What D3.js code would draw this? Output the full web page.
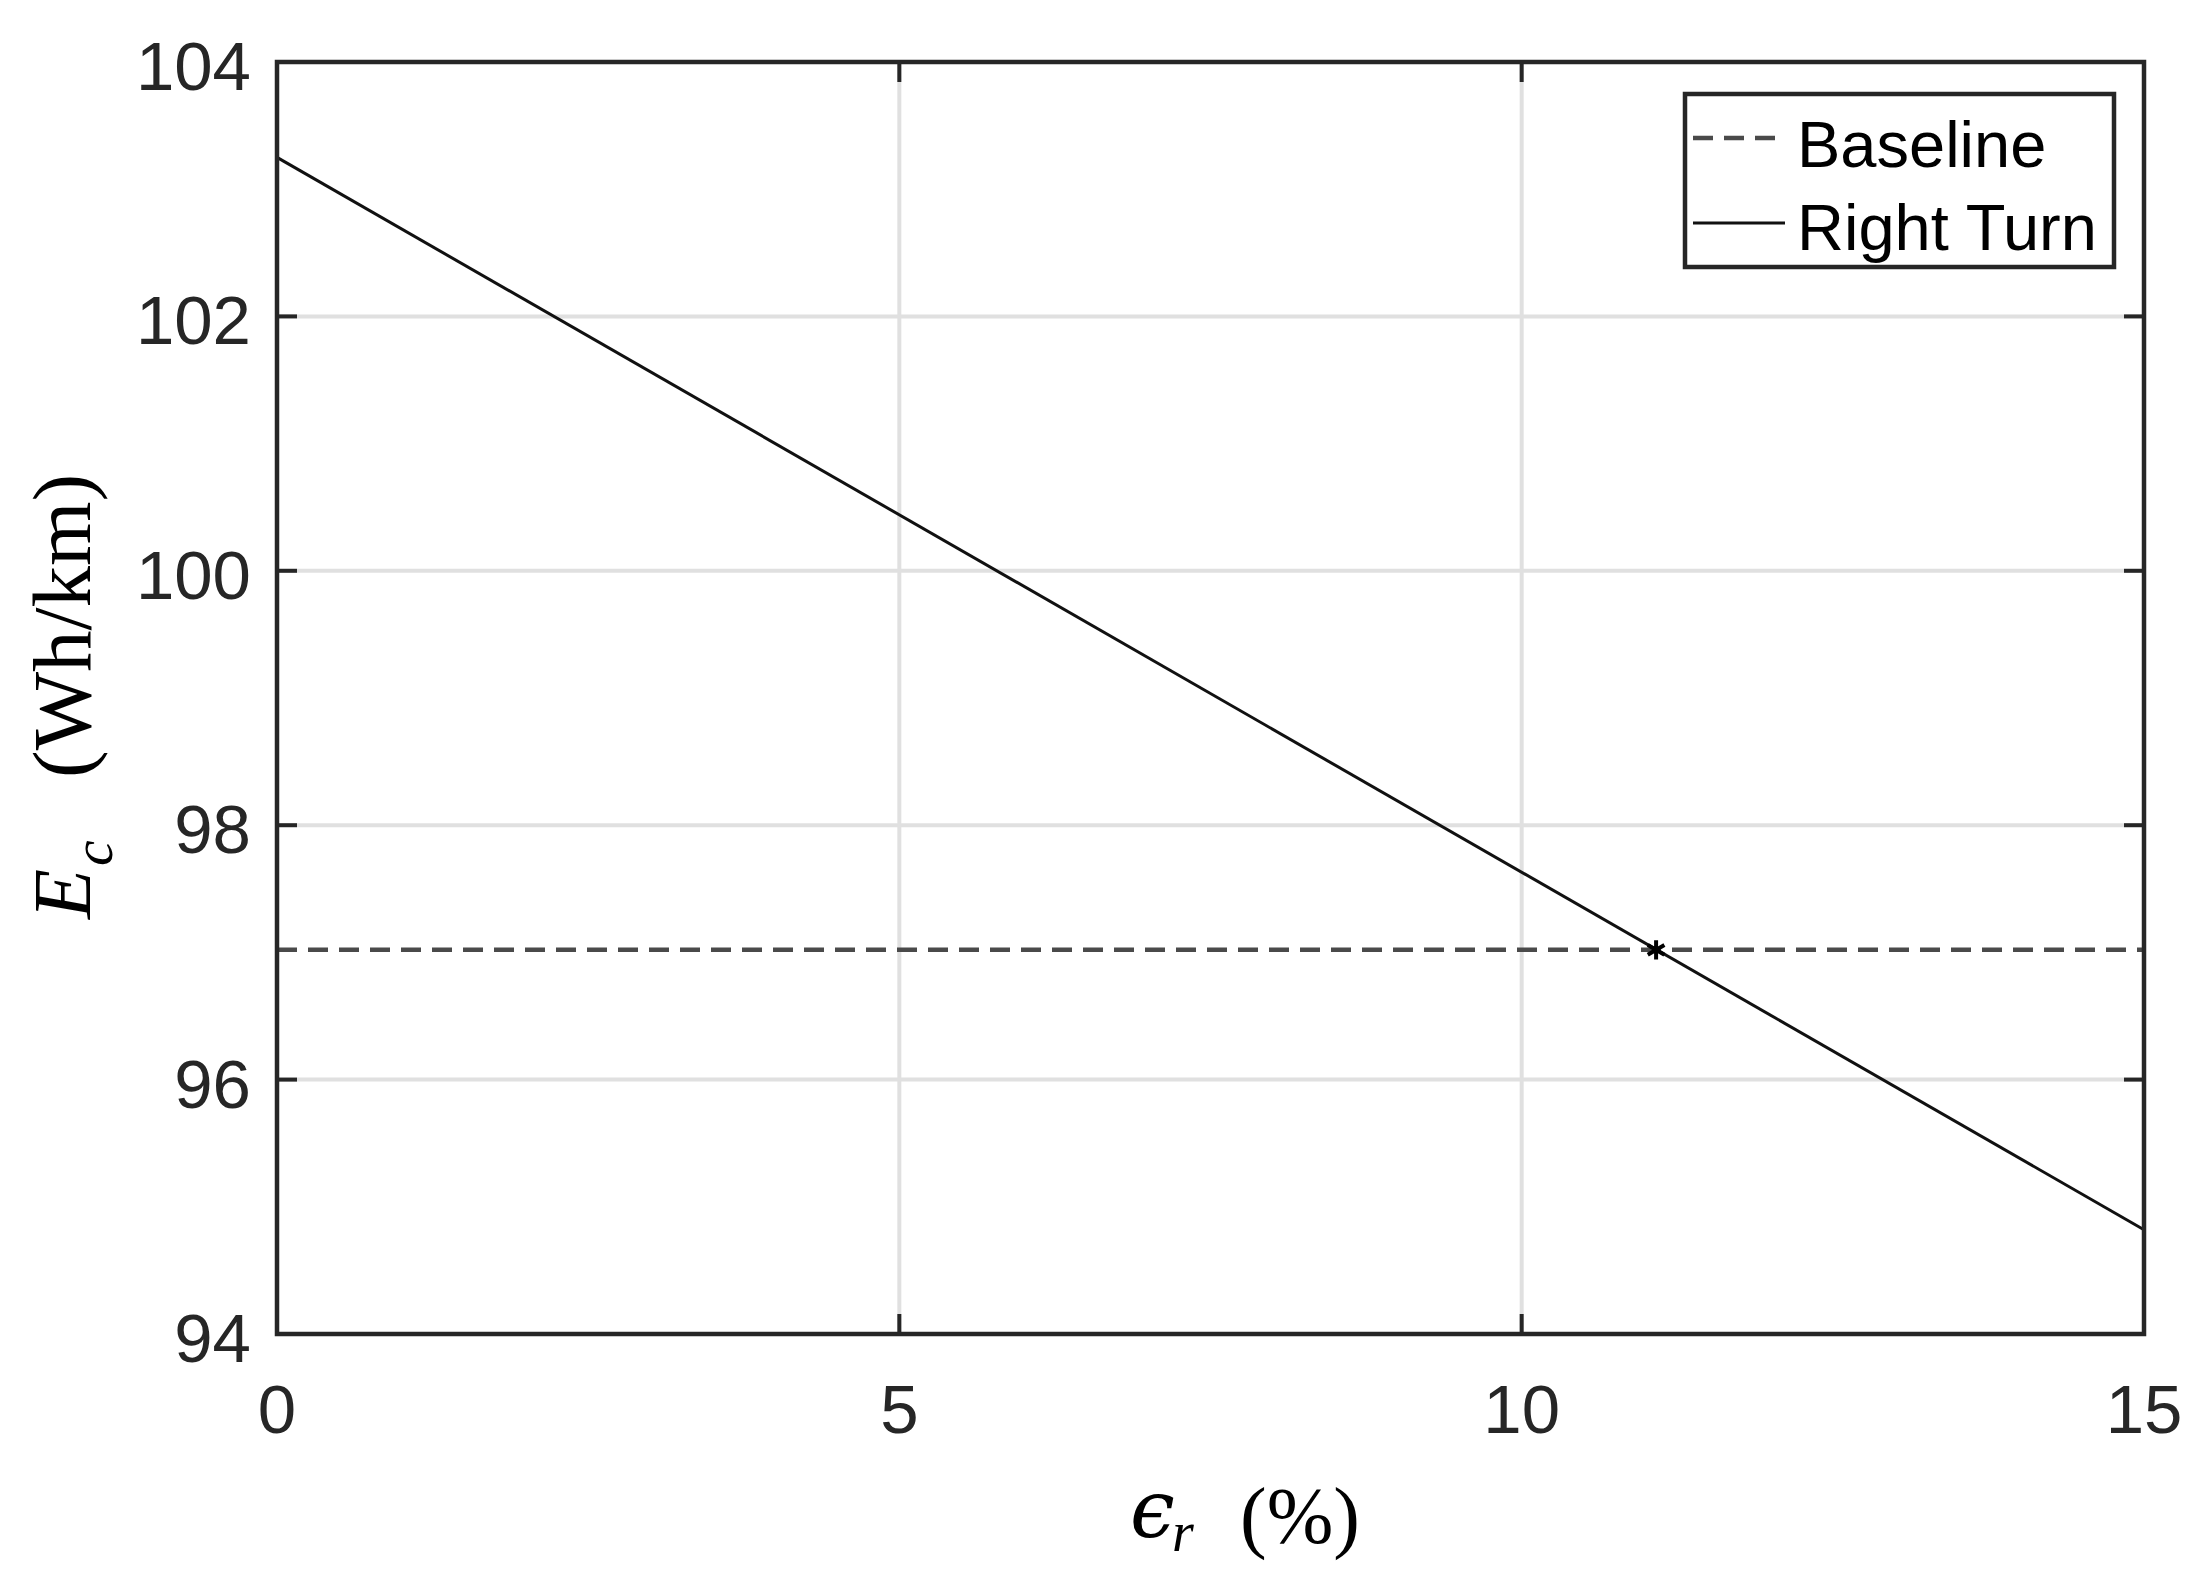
<!DOCTYPE html>
<html>
<head>
<meta charset="utf-8">
<script src="https://cdn.jsdelivr.net/npm/d3@7"></script>
<style>
  html, body { margin: 0; padding: 0; background: #fff; }
  svg { display: block; }
</style>
</head>
<body>
<div id="chart"></div>
<script>
// values
const xTicks     = [0, 5, 10, 15];
const yTicks     = [94, 96, 98, 100, 102, 104];
const turnX      = [0, 15];
const turnY      = [103.25, 94.82];
const baseX      = [0, 15];
const baseY      = [97.02, 97.02];
const crossPoint = [11.08, 97.02];
const legendKeys = ['Baseline', 'Right Turn'];

function drawChart() {
  const W = 2207, H = 1588;
  const M = { left: 277, right: 2144, top: 62, bottom: 1334 };
  const AXIS = '#262626';

  const svg = d3.select('#chart').append('svg').attr('width', W).attr('height', H);

  const x = d3.scaleLinear().domain([0, 15]).range([M.left, M.right]);
  const y = d3.scaleLinear().domain([94, 104]).range([M.bottom, M.top]);

  // grid
  svg.append('g').selectAll('line').data(xTicks.slice(1, -1)).join('line')
    .attr('x1', d => x(d)).attr('x2', d => x(d))
    .attr('y1', M.top).attr('y2', M.bottom)
    .attr('stroke', '#e0e0e0').attr('stroke-width', 4);
  svg.append('g').selectAll('line').data(yTicks.slice(1, -1)).join('line')
    .attr('x1', M.left).attr('x2', M.right)
    .attr('y1', d => y(d)).attr('y2', d => y(d))
    .attr('stroke', '#e0e0e0').attr('stroke-width', 4);

  // series
  const line = d3.line().x(d => x(d[0])).y(d => y(d[1]));
  svg.append('path').datum(baseX.map((v, i) => [v, baseY[i]]))
    .attr('d', line).attr('fill', 'none')
    .attr('stroke', '#4a4a4a').attr('stroke-width', 4.5).attr('stroke-dasharray', '20,11');
  svg.append('path').datum(turnX.map((v, i) => [v, turnY[i]]))
    .attr('d', line).attr('fill', 'none')
    .attr('stroke', '#111').attr('stroke-width', 3);

  // crossing marker
  svg.append('path')
    .attr('d', d3.symbol().type(d3.symbolAsterisk).size(260)())
    .attr('transform', `translate(${x(crossPoint[0])},${y(crossPoint[1])})`)
    .attr('fill', 'none').attr('stroke', '#000').attr('stroke-width', 4);

  // ticks, inside on all four sides
  const TL = 20;
  const ticks = svg.append('g').attr('stroke', AXIS).attr('stroke-width', 4);
  xTicks.forEach(t => {
    ticks.append('line').attr('x1', x(t)).attr('x2', x(t)).attr('y1', M.bottom).attr('y2', M.bottom - TL);
    ticks.append('line').attr('x1', x(t)).attr('x2', x(t)).attr('y1', M.top).attr('y2', M.top + TL);
  });
  yTicks.forEach(t => {
    ticks.append('line').attr('x1', M.left).attr('x2', M.left + TL).attr('y1', y(t)).attr('y2', y(t));
    ticks.append('line').attr('x1', M.right).attr('x2', M.right - TL).attr('y1', y(t)).attr('y2', y(t));
  });

  // box
  svg.append('rect')
    .attr('x', M.left).attr('y', M.top)
    .attr('width', M.right - M.left).attr('height', M.bottom - M.top)
    .attr('fill', 'none').attr('stroke', AXIS).attr('stroke-width', 4.5);

  // tick labels
  const sans = '"Liberation Sans", Arial, sans-serif';
  svg.append('g').selectAll('text').data(xTicks).join('text')
    .attr('x', d => x(d)).attr('y', M.bottom + 99)
    .attr('text-anchor', 'middle').attr('font-family', sans).attr('font-size', '69px')
    .attr('fill', AXIS).text(d => d);
  svg.append('g').selectAll('text').data(yTicks).join('text')
    .attr('x', M.left - 26).attr('y', d => y(d) + 28)
    .attr('text-anchor', 'end').attr('font-family', sans).attr('font-size', '69px')
    .attr('fill', AXIS).text(d => d);

  // axis labels (serif, math italic symbols)
  const serif = '"Liberation Serif", "DejaVu Serif", serif';
  const xl = svg.append('g').attr('font-family', serif).attr('fill', '#000');
  xl.append('text').attr('x', 1130).attr('y', 1537).attr('font-size', '80px')
    .attr('font-style', 'italic').attr('font-family', '"DejaVu Serif", serif').text('ϵ');
  xl.append('text').attr('x', 1172).attr('y', 1551).attr('font-size', '56px')
    .attr('font-style', 'italic').text('r');
  xl.append('text').attr('x', 1240).attr('y', 1543).attr('font-size', '80px').text('(%)');

  const yl = svg.append('g').attr('font-family', serif).attr('fill', '#000')
    .attr('transform', 'translate(90,919) rotate(-90)');
  yl.append('text').attr('x', 0).attr('y', 0).attr('font-size', '82px')
    .attr('font-style', 'italic').text('E');
  yl.append('text').attr('x', 53).attr('y', 22).attr('font-size', '58px')
    .attr('font-style', 'italic').text('c');
  yl.append('text').attr('x', 141).attr('y', 0).attr('font-size', '83px').text('(Wh/km)');

  // legend
  const lg = svg.append('g');
  lg.append('rect').attr('x', 1685).attr('y', 94).attr('width', 429).attr('height', 173)
    .attr('fill', '#fff').attr('stroke', AXIS).attr('stroke-width', 4.5);
  legendKeys.forEach((k, i) => {
    const ly = 138 + i * 85;
    lg.append('line').attr('x1', 1693).attr('x2', 1785).attr('y1', ly).attr('y2', ly)
      .attr('stroke', i === 0 ? '#4a4a4a' : '#111')
      .attr('stroke-width', i === 0 ? 4.5 : 3)
      .attr('stroke-dasharray', i === 0 ? '20,11' : null);
    lg.append('text').attr('x', 1797).attr('y', 167 + i * 83)
      .attr('font-family', sans).attr('font-size', '65px').attr('fill', '#000').text(k);
  });
}

drawChart();
</script>
</body>
</html>
